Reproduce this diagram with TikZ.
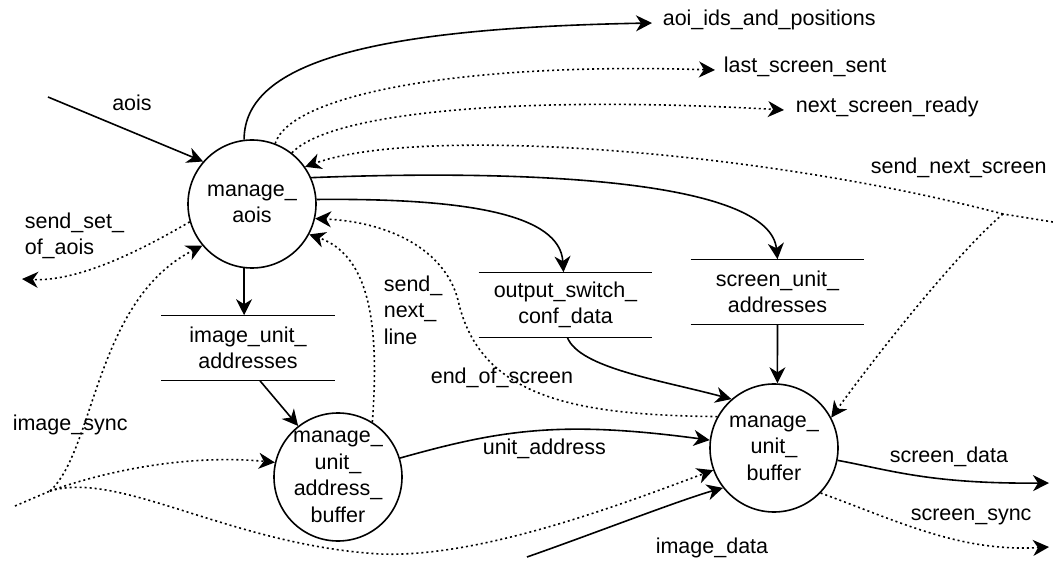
\documentclass[tikz,border=0pt]{standalone}
\usepackage{fontspec}
\setmainfont{Liberation Sans}
\usetikzlibrary{arrows.meta,calc}
\newcommand\dfdfont{\fontsize{21.5}{26.5}\selectfont}
\begin{document}
\begin{tikzpicture}[x=1pt,y=-1pt,
  font=\dfdfont,
  line width=1.6pt,
  tip/.tip={Stealth[length=16pt,width=16pt,inset=5pt,line width=1.6pt]},
  flow/.style={-tip},
  ctrl/.style={-tip,dash pattern=on 2pt off 3pt},
  ctrlplain/.style={dash pattern=on 2pt off 3pt},
  proc/.style={circle,draw,minimum size=128pt,inner sep=0pt},
  ptext/.style={align=center,inner sep=0pt},
  store/.style={minimum width=172pt,minimum height=64pt,inner sep=0pt,align=center},
  lbl/.style={inner sep=0pt}]
\useasboundingbox (0,0) rectangle (1053,561);

% processes
\node[proc,label={[ptext]center:manage\_\\aois}] (ma) at (252,204) {};
\node[proc,label={[ptext]center:manage\_\\unit\_\\address\_\\buffer}] (mb) at (338,477) {};
\node[proc,label={[ptext]center:manage\_\\unit\_\\buffer}] (mu) at (774,448) {};

% data stores
\node[store] (ia) at (248,348) {image\_unit\_\\addresses};
\node[store] (oc) at (565.5,305) {output\_switch\_\\conf\_data};
\node[store] (su) at (777.5,292) {screen\_unit\_\\addresses};
\foreach \s in {ia,oc,su}
  \draw[line width=1.3pt] (\s.north west) -- (\s.north east) (\s.south west) -- (\s.south east);

% free ends of the external flows
\coordinate (aoisin) at (48,97);
\coordinate (ssa) at (22,279);
\coordinate (isin) at (15,506);
\coordinate (J) at (50,491);
\coordinate (snsin) at (1053,222);
\coordinate (K) at (1003,214);
\coordinate (idin) at (527,557);
\coordinate (sdout) at (1049,483);
\coordinate (ssout) at (1049,547);

% flow labels
\node[lbl,anchor=mid] (laois) at (132,108) {aois};
\node[lbl,anchor=mid west] (lA) at (662,23) {aoi\_ids\_and\_positions};
\node[lbl,anchor=mid west] (lL) at (723,70) {last\_screen\_sent};
\node[lbl,anchor=mid west] (lN) at (795,110) {next\_screen\_ready};
\node[lbl,anchor=mid west] (lS) at (870,171) {send\_next\_screen};
\node[lbl,anchor=west,align=left] (lset) at (24,236) {send\_set\_\\of\_aois};
\node[lbl,anchor=west,align=left] (lline) at (383,310) {send\_\\next\_\\line};
\node[lbl,anchor=mid west] (lsync) at (12,428) {image\_sync};
\node[lbl,anchor=mid west] (leos) at (430,381) {end\_of\_screen};
\node[lbl,anchor=mid west] (lua) at (482,452) {unit\_address};
\node[lbl,anchor=mid west] (lid) at (655,551) {image\_data};
\node[lbl,anchor=mid west] (lsd) at (889,460) {screen\_data};
\node[lbl,anchor=mid west] (lss) at (910,518) {screen\_sync};

% flows around manage_aois
\draw[flow] (aoisin) -- (ma.139);
\draw[flow] (ma.97) .. controls (244,60) and (380,28) .. ([xshift=-10pt]lA.mid west);
\draw[ctrl] (ma.69) .. controls (290,95) and (460,62) .. ([xshift=-8pt]lL.mid west);
\draw[ctrl] (ma.52) .. controls (330,112) and (520,95) .. ([xshift=-11pt]lN.mid west);
\draw[ctrlplain] (snsin) -- (K);
\draw[ctrl] (K) .. controls (760,150) and (420,125) .. (ma.35);
\draw[ctrl] (K) .. controls (960,250) and (880,350) .. (mu.28);
\draw[flow] (ma.24) .. controls (560,168) and (770,185) .. (su.north);
\draw[flow] (ma.4) .. controls (470,198) and (560,215) .. ([xshift=-2pt]oc.north);
\draw[ctrl] (mu.151) .. controls (580,415) and (480,400) .. (458,300)
                     .. controls (445,250) and (390,222) .. (ma.-13);
\draw[ctrl] (mb.58) .. controls (380,320) and (368,255) .. (ma.-28);
\draw[ctrl] (ma.196) .. controls (145,248) and (80,282) .. (ssa);
\draw[flow] (ma.263) -- (ma.263 |- ia.north);

% image_sync branches
\draw[ctrlplain] (isin) -- (J);
\draw[ctrl] (J) .. controls (95,450) and (95,300) .. (ma.220);
\draw[ctrl] (J) .. controls (120,466) and (200,455) .. (mb.167);
\draw[ctrl] (J) .. controls (120,470) and (230,545) .. (380,554)
                .. controls (480,558) and (620,505) .. (mu.200);

% flows into and out of the buffers
\draw[flow] ([xshift=12pt]ia.south) -- (mb.128);
\draw[flow] ([xshift=2pt]oc.south) .. controls (580,368) and (660,380) .. (mu.131);
\draw[flow] (su.south) -- (mu.87);
\draw[flow] (mb.17) .. controls (500,430) and (560,420) .. (mu.173);
\draw[flow] (idin) .. controls (590,535) and (680,500) .. (mu.218);
\draw[flow] (mu.-11) .. controls (890,470) and (930,484) .. (sdout);
\draw[ctrl] (mu.-44) .. controls (900,522) and (960,552) .. (ssout);
\end{tikzpicture}
\end{document}
